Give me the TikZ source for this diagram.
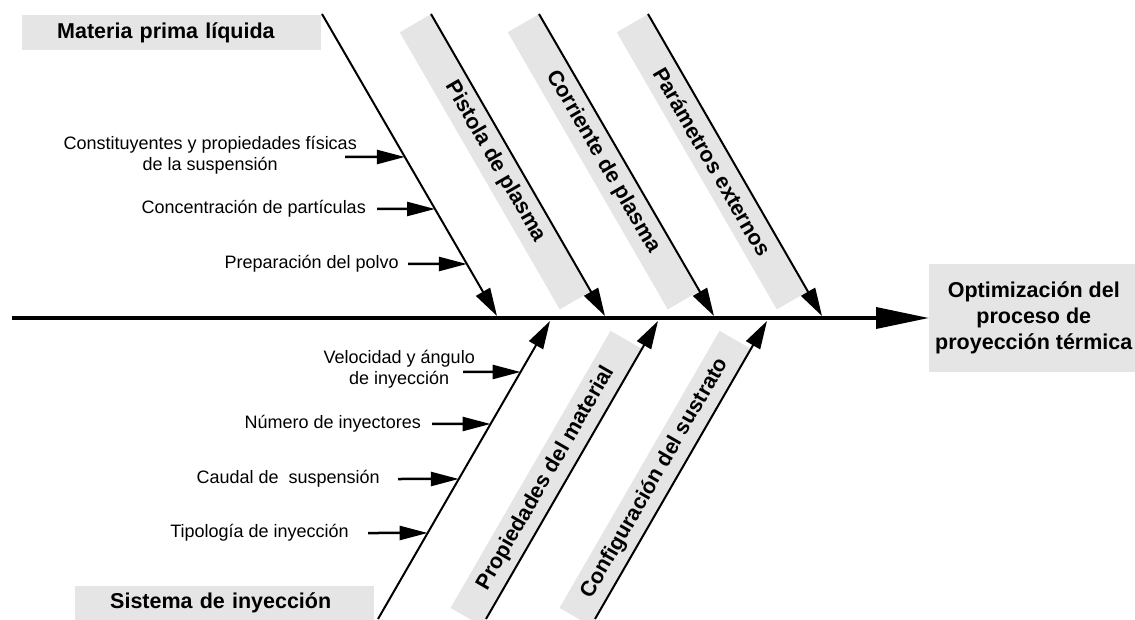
\documentclass[tikz,border=0pt]{standalone}
\usepackage{fontspec}
\setmainfont{Liberation Sans}
\usetikzlibrary{arrows.meta,calc}

\begin{document}
\begin{tikzpicture}[x=1pt, y=1pt, every node/.style={inner sep=0pt},
  catfont/.style={font=\fontsize{21.5}{26}\selectfont\bfseries},
  subfont/.style={font=\fontsize{18}{21}\selectfont},
  catbox/.style={catfont, fill=black!10, text width=229pt, inner xsep=35pt, minimum height=35pt, align=left},
  band/.style={catfont, fill=black!10, minimum width=320pt, minimum height=36pt},
  goalbox/.style={catfont, fill=black!10, minimum height=108pt, inner xsep=6pt, align=center},
  bone/.style={line width=2pt, -{Triangle[length=28pt,width=16pt]}},
  cause/.style={line width=2.5pt, -{Triangle[length=28pt,width=14pt]}},
  spine/.style={line width=3.5pt, -{Triangle[length=53pt,width=21pt]}}]
  \useasboundingbox (0,0) rectangle (1135,619);
  \clip (0,0) rectangle (1135,619);
  % bones above the spine
  \coordinate (mpT) at (322,605);  \coordinate (mpH) at (497,303);
  \coordinate (pisT) at (431,605); \coordinate (pisH) at (605,303);
  \coordinate (corT) at (539,605); \coordinate (corH) at (714,303);
  \coordinate (parT) at (648,605); \coordinate (parH) at (822,303);
  % bones below the spine
  \coordinate (sisT) at (378,0);   \coordinate (sisH) at (550,298);
  \coordinate (proT) at (486,0);   \coordinate (proH) at (658,298);
  \coordinate (cfgT) at (595,0);   \coordinate (cfgH) at (767,298);
  % grey bands
  \node[band, rotate=-60, anchor=north west] (pistola) at (pisT) {Pistola de plasma};
  \node[band, rotate=-60, anchor=north west] (corriente) at (corT) {Corriente de plasma};
  \node[band, rotate=-60, anchor=north west] (parametros) at (parT) {Parámetros externos};
  \node[band, rotate=60, anchor=south east] (propiedades) at ($(proH)+(240:32)$) {Propiedades del material};
  \node[band, rotate=60, anchor=south east] (configuracion) at ($(cfgH)+(240:32)$) {Configuración del sustrato};
  \node[catbox, anchor=north west] (materia) at (22,604) {Materia prima líquida};
  \node[catbox, anchor=north west] (sistema) at (75,33.5) {Sistema de inyección};
  \node[goalbox, anchor=west] (goal) at (929,301) {Optimización del\\proceso de\\proyección térmica};
  \foreach \b in {mp,pis,cor,par,sis,pro,cfg}
    \draw[bone] (\b T) -- (\b H);
  % causes of the raw material
  \node[subfont, anchor=east, align=center] (const) at (357,464) {Constituyentes y propiedades físicas\\de la suspensión};
  \coordinate (constA) at (345,462);
  \draw[cause] (constA) -- (intersection of mpT--mpH and constA--mpH |- constA);
  \node[subfont, anchor=east] (conc) at (366,410) {Concentración de partículas};
  \coordinate (concA) at (377,410);
  \draw[cause] (concA) -- (intersection of mpT--mpH and concA--mpH |- concA);
  \node[subfont, anchor=east] (prep) at (399,355) {Preparación del polvo};
  \coordinate (prepA) at (408,355);
  \draw[cause] (prepA) -- (intersection of mpT--mpH and prepA--mpH |- prepA);
  % causes of the injection system
  \node[subfont, anchor=east, align=center] (vel) at (475,250) {Velocidad y ángulo\\de inyección};
  \coordinate (velA) at (463,247);
  \draw[cause] (velA) -- (intersection of sisT--sisH and velA--sisH |- velA);
  \node[subfont, anchor=east] (num) at (421,195) {Número de inyectores};
  \coordinate (numA) at (432,195);
  \draw[cause] (numA) -- (intersection of sisT--sisH and numA--sisH |- numA);
  \node[subfont, anchor=east] (cau) at (380,140) {Caudal de~~suspensión};
  \coordinate (cauA) at (398,140);
  \draw[cause] (cauA) -- (intersection of sisT--sisH and cauA--sisH |- cauA);
  \node[subfont, anchor=east] (tipo) at (349,86) {Tipología de inyección};
  \coordinate (tipoA) at (368,86);
  \draw[cause] (tipoA) -- (intersection of sisT--sisH and tipoA--sisH |- tipoA);
  % spine
  \coordinate (tail) at (12,301);
  \draw[spine] (tail) -- (goal.west);
\end{tikzpicture}
\end{document}
